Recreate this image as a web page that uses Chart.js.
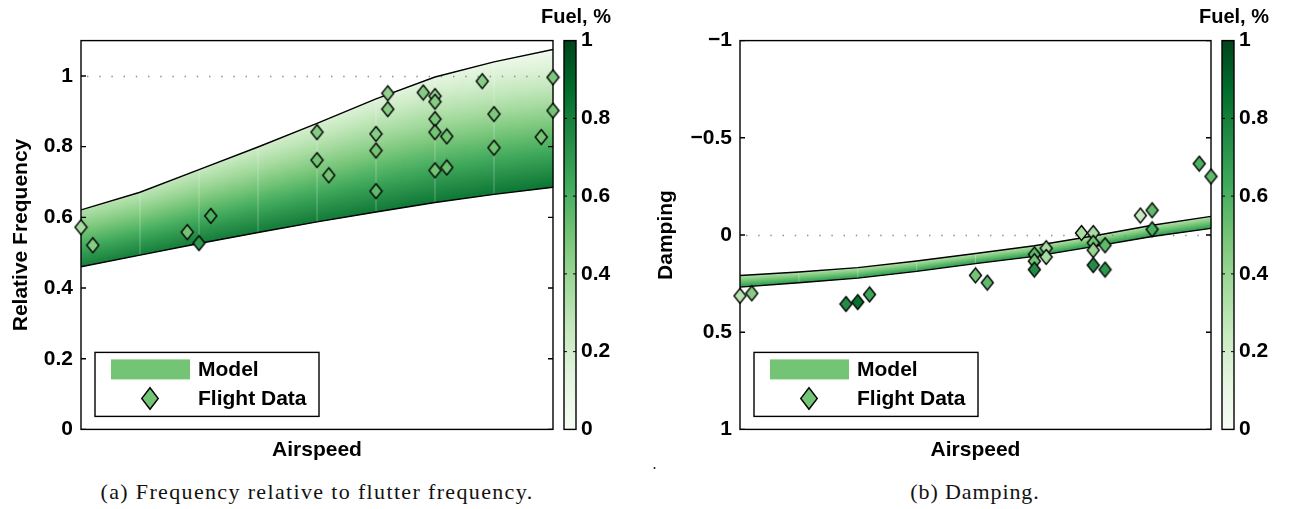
<!DOCTYPE html>
<html>
<head>
<meta charset="utf-8">
<script src="https://cdn.jsdelivr.net/npm/chart.js@4.4.0/dist/chart.umd.min.js"></script>
<style>
  body { margin: 0; background: #fff; width: 1289px; height: 509px; position: relative; overflow: hidden; }
  canvas { position: absolute; top: 0; }
  #freqChart { left: 0; }
  #dampChart { left: 645px; }
  .cap { position: absolute; font-family: "Liberation Serif", serif; font-size: 22px; line-height: 26px;
         letter-spacing: 0.9px; white-space: nowrap; transform: translateX(-50%); color: #111; }
</style>
</head>
<body>
<canvas id="freqChart" width="645" height="470"></canvas>
<canvas id="dampChart" width="644" height="470"></canvas>
<div class="cap" style="left:317px;top:479px;letter-spacing:1.35px">(a) Frequency relative to flutter frequency.</div>
<div class="cap" style="left:975px;top:479px">(b) Damping.</div>
<div class="cap" style="left:655px;top:451px;font-size:16px">.</div>
<script>
// model band, airspeed nodes (arbitrary units, no ticks shown)
const airspeedModel = [0, 12.5, 25, 37.5, 50, 62.5, 75, 87.5, 100];
const freqEmpty = [0.621, 0.671, 0.735, 0.799, 0.866, 0.935, 0.997, 1.04, 1.075];
const freqFull  = [0.46, 0.493, 0.526, 0.557, 0.587, 0.615, 0.642, 0.665, 0.685];
const dampUpper = [0.208, 0.19, 0.168, 0.134, 0.095, 0.055, 0.005, -0.05, -0.096];
const dampLower = [0.268, 0.246, 0.222, 0.187, 0.147, 0.11, 0.06, 0.008, -0.034];

// flight data, frequency panel
const freqAirspeed = [0, 2.5, 22.5, 25, 27.5, 50, 50, 52.5, 62.5, 62.5, 62.5, 65, 65, 72.5, 75, 75, 75, 75, 75, 77.5, 77.5, 85, 87.5, 87.5, 97.5, 100, 100];
const freqValue = [0.572, 0.521, 0.558, 0.527, 0.604, 0.841, 0.762, 0.719, 0.836, 0.789, 0.674, 0.951, 0.906, 0.953, 0.943, 0.927, 0.878, 0.841, 0.733, 0.829, 0.741, 0.985, 0.892, 0.797, 0.827, 0.996, 0.902];
const freqFuel = [0.35, 0.45, 0.5, 0.7, 0.6, 0.45, 0.5, 0.5, 0.45, 0.5, 0.55, 0.42, 0.45, 0.45, 0.4, 0.45, 0.48, 0.5, 0.5, 0.5, 0.52, 0.45, 0.48, 0.5, 0.5, 0.48, 0.5];

// flight data, damping panel
const dampAirspeed = [0, 2.5, 22.5, 25, 27.5, 50, 52.5, 62.5, 62.5, 62.5, 65, 65, 72.5, 75, 75, 75, 75, 77.5, 77.5, 85, 87.5, 87.5, 97.5, 100];
const dampValue = [0.313, 0.30, 0.355, 0.345, 0.306, 0.208, 0.245, 0.10, 0.135, 0.178, 0.068, 0.113, -0.01, -0.01, 0.04, 0.078, 0.155, 0.053, 0.178, -0.1, -0.127, -0.029, -0.367, -0.301];
const dampFuel = [0.3, 0.45, 0.75, 0.85, 0.65, 0.5, 0.55, 0.55, 0.5, 0.75, 0.35, 0.35, 0.35, 0.35, 0.5, 0.4, 0.75, 0.55, 0.7, 0.25, 0.55, 0.6, 0.6, 0.55];

const fuelTicks = [0, 0.2, 0.4, 0.6, 0.8, 1];
const greens = ['#f7fcf5', '#e5f5e0', '#c7e9c0', '#a1d99b', '#74c476', '#41ab5d', '#238b45', '#006d2c', '#00441b'];

Chart.defaults.font.family = '"Liberation Sans", Arial, sans-serif';
Chart.defaults.font.weight = 'bold';
Chart.defaults.color = '#000';

function hex2rgb(h){
    return [parseInt(h.substr(1,2),16), parseInt(h.substr(3,2),16), parseInt(h.substr(5,2),16)];
}
function fuelColor(f){
    f = Math.max(0, Math.min(1, f));
    let p = f * (greens.length - 1);
    let i = Math.min(Math.floor(p), greens.length - 2);
    let t = p - i;
    let a = hex2rgb(greens[i]), b = hex2rgb(greens[i+1]);
    let c = a.map((v, k) => Math.round(v + (b[k] - v) * t));
    return 'rgb(' + c.join(',') + ')';
}

const diamondCache = {};
function diamond(color, w, h){
    let key = color + w + 'x' + h;
    if (diamondCache[key]) return diamondCache[key];
    let c = document.createElement('canvas');
    c.width = Math.ceil(w) + 3; c.height = Math.ceil(h) + 3;
    let g = c.getContext('2d');
    let cx = c.width / 2, cy = c.height / 2;
    g.beginPath();
    g.moveTo(cx, cy - h/2);
    g.lineTo(cx + w/2, cy);
    g.lineTo(cx, cy + h/2);
    g.lineTo(cx - w/2, cy);
    g.closePath();
    g.fillStyle = color;
    g.fill();
    g.lineWidth = 1.4;
    g.strokeStyle = '#000';
    g.stroke();
    diamondCache[key] = c;
    return c;
}

function xy(xs, ys){
    return xs.map((x, i) => ({x: x, y: ys[i]}));
}

// band fill between dataset 1 and 2, box, inner ticks, dotted ref, colorbar, legend
function panelPlugin(cfg){
    return {
        id: 'panel',
        beforeDatasetsDraw(chart){
            const ctx = chart.ctx, a = chart.chartArea;
            const up = chart.getDatasetMeta(1).data, lo = chart.getDatasetMeta(2).data;
            ctx.save();
            // band, drawn column by column
            for (let px = up[0].x; px < up[up.length-1].x; px += 1){
                let i = 0;
                while (i < up.length - 2 && px > up[i+1].x) i++;
                let t = (px - up[i].x) / (up[i+1].x - up[i].x);
                let yt = up[i].y + (up[i+1].y - up[i].y) * t;
                let yb = lo[i].y + (lo[i+1].y - lo[i].y) * t;
                let tx = (px - a.left) / (a.right - a.left);
                let ft = cfg.bandTop[0] + (cfg.bandTop[1] - cfg.bandTop[0]) * tx;
                let fb = cfg.bandBottom[0] + (cfg.bandBottom[1] - cfg.bandBottom[0]) * tx;
                let top = Math.min(yt, yb), bot = Math.max(yt, yb);
                let gr = ctx.createLinearGradient(0, top, 0, bot);
                for (let k = 0; k <= 8; k++){
                    gr.addColorStop(k / 8, fuelColor(ft + (fb - ft) * k / 8));
                }
                ctx.fillStyle = gr;
                ctx.fillRect(px, top, 1.3, bot - top);
            }
            // faint mesh seams
            ctx.strokeStyle = 'rgba(255,255,255,0.3)';
            ctx.lineWidth = 1;
            for (let i = 1; i < up.length - 1; i++){
                ctx.beginPath();
                ctx.moveTo(up[i].x, up[i].y);
                ctx.lineTo(lo[i].x, lo[i].y);
                ctx.stroke();
            }
            // dotted reference line
            const ys = chart.scales.y;
            let yr = Math.round(ys.getPixelForValue(cfg.refLine)) + 0.5;
            ctx.setLineDash([1.4, 10.8]);
            ctx.strokeStyle = '#8c8c8c';
            ctx.lineWidth = 1.5;
            ctx.beginPath();
            ctx.moveTo(a.left + 6, yr);
            ctx.lineTo(a.right, yr);
            ctx.stroke();
            ctx.setLineDash([]);
            // box and inner ticks
            ctx.strokeStyle = '#000';
            ctx.lineWidth = 1.4;
            ctx.strokeRect(a.left, a.top, a.right - a.left, a.bottom - a.top);
            ys.ticks.forEach(tk => {
                let y = ys.getPixelForValue(tk.value);
                ctx.beginPath();
                ctx.moveTo(a.left, y); ctx.lineTo(a.left + 5, y);
                ctx.moveTo(a.right, y); ctx.lineTo(a.right - 5, y);
                ctx.stroke();
            });
            // colorbar
            const fs = chart.scales.fuel;
            let cx0 = a.right + 11, cw = 12;
            let cy0 = fs.getPixelForValue(1), cy1 = fs.getPixelForValue(0);
            let cg = ctx.createLinearGradient(0, cy1, 0, cy0);
            greens.forEach((c, k) => cg.addColorStop(k / (greens.length - 1), c));
            ctx.fillStyle = cg;
            ctx.fillRect(cx0, cy0, cw, cy1 - cy0);
            ctx.strokeRect(cx0, cy0, cw, cy1 - cy0);
            ctx.lineWidth = 1;
            fuelTicks.slice(1, -1).forEach(v => {
                let y = fs.getPixelForValue(v);
                ctx.beginPath();
                ctx.moveTo(cx0, y); ctx.lineTo(cx0 + 3, y);
                ctx.moveTo(cx0 + cw, y); ctx.lineTo(cx0 + cw - 3, y);
                ctx.stroke();
            });
            ctx.fillStyle = '#000';
            ctx.font = 'bold 20px "Liberation Sans", Arial, sans-serif';
            ctx.textAlign = 'center';
            ctx.textBaseline = 'middle';
            ctx.fillText('Fuel, %', cx0 + cw / 2 + 6, 17);
            ctx.restore();
        },
        afterDatasetsDraw(chart){
            const ctx = chart.ctx, a = chart.chartArea;
            const ds = chart.data.datasets;
            ctx.save();
            let bx = a.left + 14, by = a.bottom - 77;
            ctx.fillStyle = '#fff';
            ctx.fillRect(bx, by, 224, 64);
            ctx.strokeStyle = '#000';
            ctx.lineWidth = 1.4;
            ctx.strokeRect(bx, by, 224, 64);
            ctx.fillStyle = fuelColor(0.5);
            ctx.fillRect(a.left + 30, a.bottom - 70, 79, 20);
            let d = diamond(fuelColor(0.5), 16.5, 21.5);
            ctx.drawImage(d, Math.round(a.left + 69 - d.width / 2), Math.round(a.bottom - 31 - d.height / 2));
            ctx.fillStyle = '#000';
            ctx.font = 'bold 21px "Liberation Sans", Arial, sans-serif';
            ctx.textAlign = 'left';
            ctx.textBaseline = 'middle';
            ctx.fillText(ds[1].label, a.left + 117, a.bottom - 59);
            ctx.fillText(ds[0].label, a.left + 117, a.bottom - 30);
            ctx.restore();
        }
    };
}

function makePanel(el, o){
    const fmt = v => {
        let s = String(+Math.abs(v).toFixed(2));
        return v < 0 ? '\u2212' + s : s;
    };
    return new Chart(document.getElementById(el), {
        type: 'scatter',
        data: {
            datasets: [
                {
                    label: 'Flight Data',
                    data: xy(o.pointX, o.pointY),
                    pointStyle: c => diamond(fuelColor(o.pointFuel[c.dataIndex]), 12, 15),
                    pointRadius: 7,
                    clip: false
                },
                {
                    label: 'Model',
                    data: xy(airspeedModel, o.bandA),
                    showLine: true, borderColor: '#000', borderWidth: 1.4,
                    pointRadius: 0, fill: false
                },
                {
                    label: 'Model lower',
                    data: xy(airspeedModel, o.bandB),
                    showLine: true, borderColor: '#000', borderWidth: 1.4,
                    pointRadius: 0, fill: false
                }
            ]
        },
        options: {
            responsive: false,
            animation: false,
            devicePixelRatio: 1,
            layout: { padding: { top: 38, left: 0, right: 0, bottom: 0 } },
            plugins: { legend: { display: false }, tooltip: { enabled: false } },
            scales: {
                x: {
                    type: 'linear', min: 0, max: 100,
                    grid: { display: false, drawTicks: false },
                    border: { display: false },
                    ticks: { display: false },
                    title: { display: true, text: 'Airspeed', font: { size: 21, weight: 'bold' }, padding: { top: 0, bottom: 5 } },
                    afterFit: s => { s.height = 38; }
                },
                y: {
                    type: 'linear', position: 'left',
                    min: o.yMin, max: o.yMax, reverse: o.reverse,
                    grid: { display: false, drawTicks: false },
                    border: { display: false },
                    ticks: { stepSize: o.yStep, includeBounds: false, padding: 8, font: { size: 21 }, callback: fmt },
                    title: { display: true, text: o.yTitle, font: { size: 21, weight: 'bold' }, padding: { top: 9, bottom: 0 } },
                    afterFit: s => { s.width = o.left; }
                },
                fuel: {
                    type: 'linear', position: 'right', min: 0, max: 1,
                    grid: { display: false, drawTicks: false },
                    border: { display: false },
                    ticks: { stepSize: 0.2, padding: 28, font: { size: 21 }, callback: fmt },
                    afterFit: s => { s.width = o.right; }
                }
            }
        },
        plugins: [panelPlugin(o)]
    });
}

makePanel('freqChart', {
    pointX: freqAirspeed, pointY: freqValue, pointFuel: freqFuel,
    bandA: freqEmpty, bandB: freqFull,
    yMin: 0, yMax: 1.1, yStep: 0.2, reverse: false, yTitle: 'Relative Frequency',
    refLine: 1, left: 81, right: 92,
    bandTop: [0.32, 0.05], bandBottom: [0.8, 0.84]
});

makePanel('dampChart', {
    pointX: dampAirspeed, pointY: dampValue, pointFuel: dampFuel,
    bandA: dampUpper, bandB: dampLower,
    yMin: -1, yMax: 1, yStep: 0.5, reverse: true, yTitle: 'Damping',
    refLine: 0, left: 95, right: 78,
    bandTop: [0.32, 0.32], bandBottom: [0.7, 0.7]
});
</script>
</body>
</html>
